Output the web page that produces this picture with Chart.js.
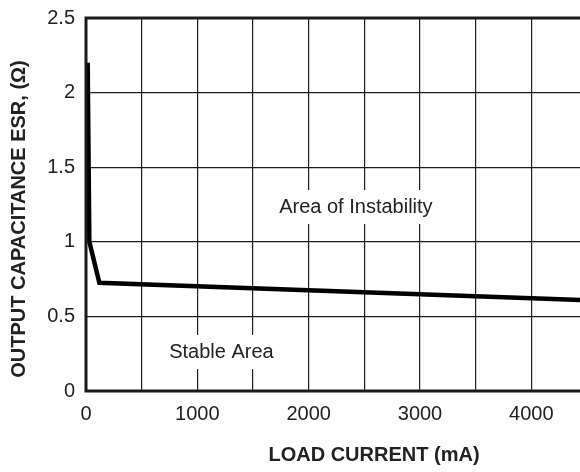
<!DOCTYPE html>
<html>
<head>
<meta charset="utf-8">
<script src="https://cdn.jsdelivr.net/npm/chart.js@4"></script>
<style>
  html, body { margin: 0; padding: 0; background: #fff; overflow: hidden; }
  #wrap { width: 600px; height: 472px; }
  canvas { display: block; }
</style>
</head>
<body>
<div id="wrap"><canvas id="esr" width="592" height="472"></canvas></div>
<script>
// load current (mA) vs output capacitance ESR (ohm)
const loadCurrent = [15, 30, 120, 4440];
const esrValues = [2.2, 1.0, 0.725, 0.61];

const xMax = 4500;          // right edge falls just past the window
const yMax = 2.5;
const xLabelsEvery = 1000;

const xTitle = 'LOAD CURRENT (mA)';
const yTitle = 'OUTPUT CAPACITANCE ESR, (\u03A9)';
const areaNotes = [
    { text: 'Area of Instability', x: 2424, y: 1.24 },
    { text: 'Stable Area', x: 1216, y: 0.268 }
];

const FONT = 'Liberation Sans, Arial, sans-serif';
const INK = '#222';

/* white boxes with the area labels, frame and axis titles */
const decorations = {
    id: 'decorations',
    beforeDatasetsDraw(chart) {
        const ctx = chart.ctx;
        const xs = chart.scales.x, ys = chart.scales.y;
        ctx.save();
        ctx.font = '20px ' + FONT;
        ctx.textAlign = 'center';
        ctx.textBaseline = 'middle';
        areaNotes.forEach(function (n) {
            let px = xs.getPixelForValue(n.x);
            let py = ys.getPixelForValue(n.y);
            let w = ctx.measureText(n.text).width;
            ctx.fillStyle = '#fff';
            ctx.fillRect(px - w / 2 - 6, py - 16, w + 12, 34);
            ctx.fillStyle = INK;
            ctx.fillText(n.text, px, py + 1);
        });
        ctx.restore();
    },
    afterDatasetsDraw(chart) {
        const ctx = chart.ctx;
        const a = chart.chartArea;
        ctx.save();
        ctx.strokeStyle = '#1a1a1a';
        ctx.lineWidth = 3;
        ctx.beginPath();
        ctx.moveTo(a.right, a.top);
        ctx.lineTo(a.left, a.top);
        ctx.lineTo(a.left, a.bottom);
        ctx.lineTo(a.right, a.bottom);
        ctx.stroke();

        ctx.fillStyle = INK;
        ctx.font = 'bold 20px ' + FONT;
        ctx.textAlign = 'center';
        ctx.textBaseline = 'middle';
        ctx.fillText(xTitle, 374, 455);
        ctx.translate(19, 219);
        ctx.rotate(-Math.PI / 2);
        ctx.fillText(yTitle, 0, 0);
        ctx.restore();
    }
};

new Chart(document.getElementById('esr'), {
    type: 'line',
    data: {
        datasets: [{
            data: loadCurrent.map(function (x, i) { return { x: x, y: esrValues[i] }; }),
            borderColor: '#000',
            borderWidth: 4.5,
            pointRadius: 0,
            tension: 0,
            fill: false
        }]
    },
    options: {
        responsive: false,
        animation: false,
        layout: { padding: { top: 18, left: 0, right: 5, bottom: 0 } },
        plugins: { legend: { display: false }, tooltip: { enabled: false } },
        scales: {
            x: {
                type: 'linear',
                min: 0,
                max: xMax,
                afterFit(scale) {
                    scale.height = 81;
                    scale.paddingLeft = 0;
                    scale.paddingRight = 0;
                },
                grid: { color: '#1e1e1e', lineWidth: 1.2, drawTicks: false },
                border: { display: false },
                ticks: {
                    stepSize: 500,
                    padding: 11,
                    color: INK,
                    font: { family: FONT, size: 20 },
                    maxRotation: 0,
                    autoSkip: false,
                    callback: function (v) { return v % xLabelsEvery === 0 && v < xMax ? String(v) : ''; }
                }
            },
            y: {
                min: 0,
                max: yMax,
                afterFit(scale) {
                    scale.width = 86;
                    scale.paddingTop = 0;
                    scale.paddingBottom = 0;
                },
                grid: { color: '#1e1e1e', lineWidth: 1.2, drawTicks: false },
                border: { display: false },
                ticks: {
                    stepSize: 0.5,
                    padding: 11,
                    color: INK,
                    font: { family: FONT, size: 20 },
                    callback: function (v) { return String(v); }
                }
            }
        }
    },
    plugins: [decorations]
});
</script>
</body>
</html>
